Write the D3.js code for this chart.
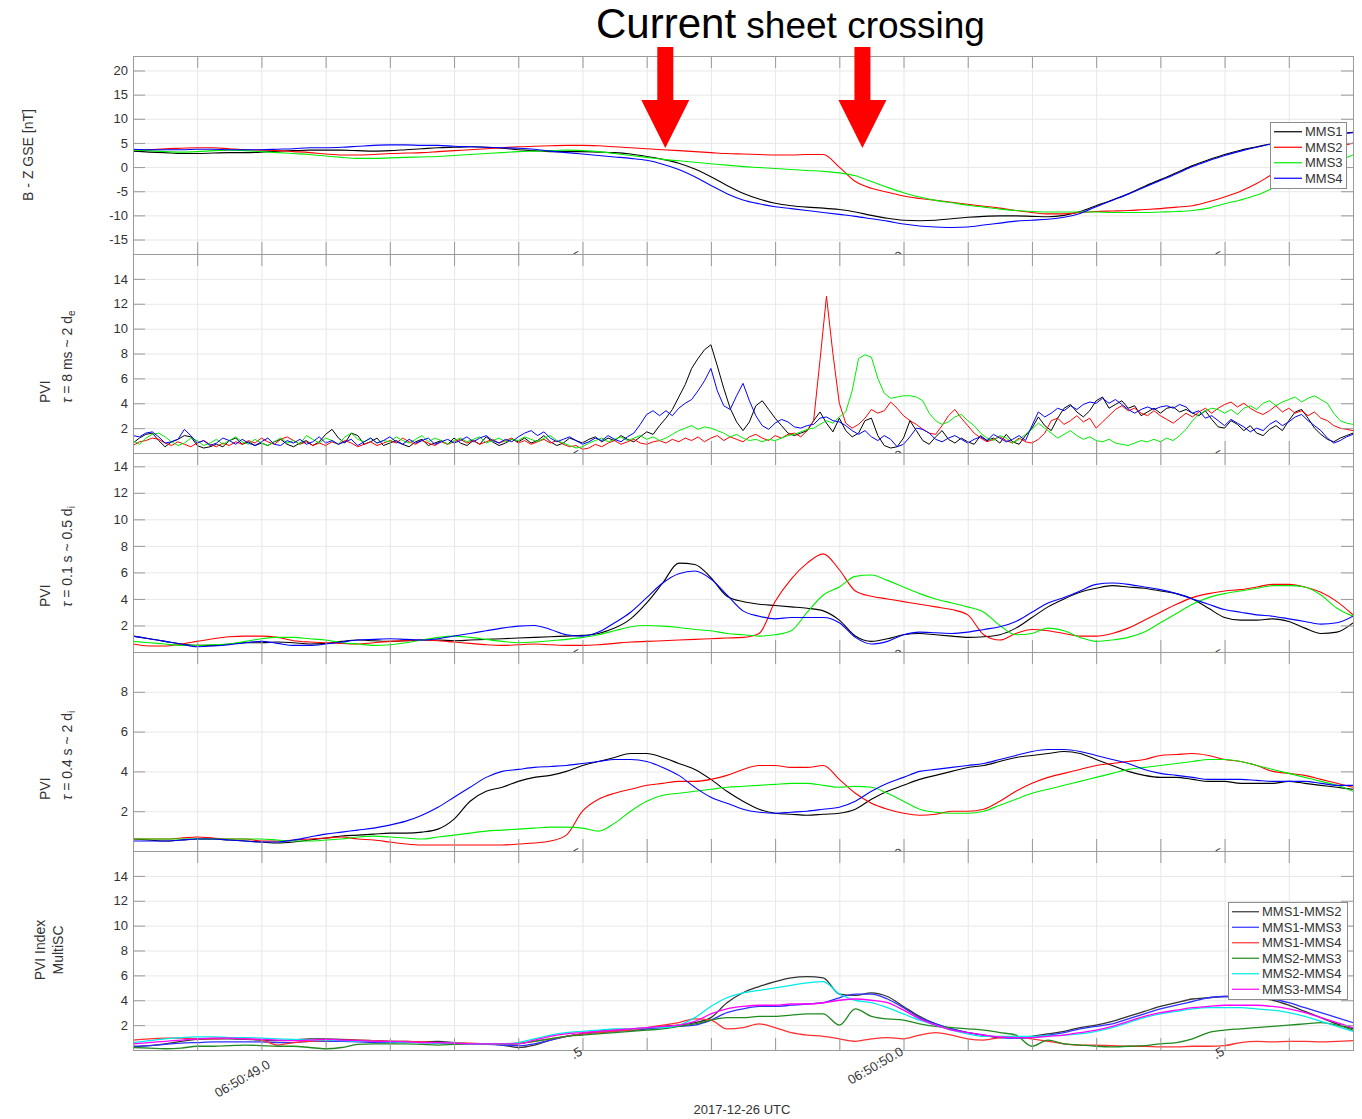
<!DOCTYPE html>
<html>
<head>
<meta charset="utf-8">
<script src="https://cdn.jsdelivr.net/npm/d3@7"></script>
<style>
  body { margin: 0; background: #fff; }
  svg { display: block; font-family: "Liberation Sans", Arial, Helvetica, sans-serif; }
</style>
</head>
<body>
<svg id="chart" width="1362" height="1119"></svg>
<script>
// Time is given in seconds after 06:50:00 UTC on 2017-12-26.
const tStart = 48.8, tEnd = 50.7;
const tSmooth = d3.range(77).map(i => 48.8 + i * 0.025);   // 25 ms samples
const tFine = d3.range(191).map(i => 48.8 + i * 0.01);     // 10 ms samples

const minorTicks = d3.range(1, 19).map(i => +(48.8 + i * 0.1).toFixed(1));
const majorTicks = [49.0, 49.5, 50.0, 50.5];
const majorLabels = ["06:50:49.0", ".5", "06:50:50.0", ".5"];

const bzTicks = [-15, -10, -5, 0, 5, 10, 15, 20];
const pviTicks = [2, 4, 6, 8, 10, 12, 14];
const pvi04Ticks = [2, 4, 6, 8];

const scNames = ["MMS1", "MMS2", "MMS3", "MMS4"];
const pairNames = ["MMS1-MMS2", "MMS1-MMS3", "MMS1-MMS4", "MMS2-MMS3", "MMS2-MMS4", "MMS3-MMS4"];

// --- B_z GSE [nT] ---
const bzMMS1 = [3.3,3.1,3.0,2.8,2.8,2.9,3.0,3.0, 3.1,3.3,3.4,3.5,3.5,3.5,3.4,3.3,
  3.4,3.6,3.8,4.0,4.1,4.2,4.1,3.9, 3.6,3.4,3.2,3.2,3.2,3.1,3.0,2.7,
  2.2,1.6,0.8,-0.4,-2.0,-3.8,-5.4,-6.6, -7.5,-8.0,-8.3,-8.5,-8.8,-9.3,-10.0,-10.6,
  -11.0,-11.1,-11.0,-10.7,-10.4,-10.2,-10.1,-10.1, -10.2,-10.3,-10.0,-9.2,-8.0,-6.8,-5.5,-4.0,
  -2.6,-1.2,0.3,1.5,2.6,3.5,4.2,4.9, 5.5,6.0,6.5,6.9,7.2];
const bzMMS2 = [3.5,3.6,3.8,3.9,4.0,4.0,3.8,3.6, 3.5,3.4,3.2,3.0,2.7,2.5,2.5,2.6,
  2.8,2.9,3.0,3.2,3.4,3.6,3.8,4.0, 4.2,4.3,4.4,4.5,4.5,4.4,4.2,4.0,
  3.8,3.6,3.4,3.2,3.0,2.8,2.7,2.6, 2.5,2.5,2.6,2.6,0.0,-3.0,-4.4,-5.2,
  -6.0,-6.5,-6.9,-7.3,-7.7,-8.1,-8.5,-9.0, -9.4,-9.7,-9.7,-9.4,-9.2,-9.1,-9.0,-8.8,
  -8.6,-8.3,-8.0,-7.2,-6.2,-5.0,-3.4,-1.5, 0.0,1.4,2.8,4.0,5.0];
const bzMMS3 = [3.5,3.4,3.2,3.1,3.2,3.4,3.5,3.4, 3.2,3.0,2.8,2.6,2.3,2.0,1.8,1.8,
  1.9,2.0,2.1,2.2,2.4,2.6,2.8,3.0, 3.2,3.3,3.4,3.5,3.4,3.2,2.8,2.4,
  2.0,1.6,1.3,1.0,0.7,0.4,0.1,-0.1, -0.3,-0.5,-0.7,-0.9,-1.2,-1.8,-3.0,-4.2,
  -5.3,-6.2,-6.9,-7.4,-7.9,-8.3,-8.7,-9.0, -9.2,-9.3,-9.3,-9.3,-9.3,-9.4,-9.4,-9.4,
  -9.3,-9.2,-9.0,-8.5,-7.6,-6.8,-5.8,-4.4, -3.0,-1.6,-0.3,1.2,2.5];
const bzMMS4 = [3.7,3.6,3.6,3.6,3.7,3.7,3.6,3.6, 3.6,3.7,3.8,4.0,4.0,4.1,4.3,4.5,
  4.6,4.6,4.5,4.5,4.3,4.2,4.1,4.0, 3.9,3.7,3.3,3.0,2.7,2.4,2.1,1.8,
  1.4,0.6,-0.5,-2.0,-3.8,-5.5,-6.8,-7.6, -8.2,-8.6,-9.0,-9.4,-9.8,-10.2,-10.7,-11.2,
  -11.8,-12.2,-12.4,-12.5,-12.4,-12.0,-11.6,-11.2, -11.0,-10.8,-10.4,-9.6,-8.2,-6.9,-5.6,-4.2,
  -2.8,-1.4,0.1,1.3,2.4,3.3,4.1,4.8, 5.4,5.9,6.4,6.8,7.1];

// --- PVI, tau = 8 ms ---
const pvi8MMS1 = [0.8,1.2,1.5,1.6,1.0,0.5,0.9,1.1,1.4,1.3, 0.6,0.4,0.5,0.7,0.5,1.0,1.2,0.7,0.9,0.6,
  0.8,0.6,0.9,1.1,0.7,0.5,0.8,1.0,0.6,0.9, 1.5,1.9,1.2,0.8,1.6,1.4,0.7,0.9,1.2,0.6,
  0.8,1.0,0.7,0.5,0.9,1.1,0.6,0.8,1.0,0.7, 1.2,0.8,0.6,1.0,0.7,1.3,0.9,0.6,0.8,1.1,
  0.9,1.2,0.8,1.0,1.4,0.9,0.6,0.8,1.2,1.0, 0.8,1.1,1.3,0.9,1.2,1.0,1.4,1.1,0.9,1.3,
  1.7,1.5,2.2,2.8,3.5,4.5,5.5,6.8,7.6,8.3, 8.7,7.0,5.2,3.6,2.5,1.8,2.5,3.8,4.2,3.5,
  2.8,2.2,1.6,1.4,1.6,1.8,2.6,3.3,2.4,1.7, 2.8,1.8,1.3,1.6,2.6,2.8,1.4,0.6,0.4,0.5,
  1.2,2.6,1.8,1.0,0.7,1.3,1.8,1.1,0.8,1.2, 0.9,0.7,1.4,1.0,1.2,0.8,1.5,0.9,0.7,1.4,
  2.0,2.9,2.2,1.8,2.8,3.6,3.9,3.3,2.9,3.4, 4.2,4.5,3.6,3.9,4.2,3.6,3.8,3.0,3.3,3.6,
  3.2,3.6,3.7,3.3,3.5,3.2,3.0,3.4,2.7,2.1, 2.0,2.6,2.3,1.8,2.2,1.6,1.4,1.9,2.2,1.8,
  2.6,3.3,3.5,2.8,2.0,1.5,1.1,0.9,1.2,1.4, 1.6];
const pvi8MMS2 = [0.6,0.9,1.0,1.2,1.1,0.8,0.6,0.9,0.7,0.5, 0.8,1.0,0.7,0.5,0.8,0.6,0.9,0.7,1.0,0.8,
  1.2,0.9,0.7,1.1,1.3,1.0,0.7,0.9,0.6,0.8, 0.6,0.9,0.7,1.0,0.8,0.5,0.7,0.9,0.6,0.8,
  1.0,0.8,1.2,0.9,0.7,1.0,0.8,0.6,0.9,0.7, 0.9,1.1,0.8,1.0,0.7,0.9,1.1,0.8,1.0,1.2,
  0.8,1.0,0.7,0.9,1.1,0.8,1.0,0.7,0.5,0.6, 0.3,0.4,0.7,0.5,0.8,1.0,0.7,0.9,1.1,0.8,
  0.7,0.9,1.0,0.8,1.1,0.9,1.2,1.0,1.3,0.9, 1.2,1.4,1.0,1.3,1.1,0.9,1.3,1.5,1.2,1.0,
  1.4,1.2,1.5,1.6,1.3,1.8,2.6,7.5,12.6,8.0, 4.0,2.4,2.0,2.3,2.8,3.5,3.2,3.4,4.1,3.6,
  3.0,2.6,2.3,1.9,1.6,1.5,2.2,3.0,3.5,2.8, 2.2,1.6,1.2,0.9,1.1,1.3,1.0,0.8,1.2,0.9,
  0.8,1.1,1.6,2.6,2.8,2.3,2.6,3.0,2.5,2.8, 2.0,2.5,3.0,3.5,3.8,3.4,3.6,3.2,3.0,3.4,
  3.0,2.7,2.4,2.8,3.2,2.9,3.3,3.6,3.2,3.6, 3.9,4.1,3.7,4.0,3.6,3.3,3.1,3.4,3.8,3.3,
  3.6,3.2,3.4,3.0,3.3,2.8,2.6,2.2,2.0,1.9, 1.8];
const pvi8MMS3 = [1.0,0.7,1.2,1.5,1.6,1.3,0.9,0.6,0.8,1.2, 1.0,0.6,0.8,1.1,0.7,1.0,1.3,0.9,0.7,1.1,
  0.8,0.6,0.9,1.2,0.8,1.0,0.7,1.4,1.1,0.8, 1.2,1.0,0.7,1.3,1.6,1.1,0.9,1.2,0.8,1.0,
  0.9,1.3,1.0,0.8,1.1,1.4,0.9,1.2,1.0,0.7, 1.0,1.2,0.9,1.1,1.3,0.8,1.0,1.2,0.9,1.1,
  1.0,1.3,1.1,0.9,1.2,1.4,1.0,0.8,0.6,0.4, 0.5,0.8,1.0,1.2,0.9,1.1,1.3,1.0,1.2,1.4,
  1.1,1.3,1.0,1.2,1.5,1.8,2.0,2.2,1.9,2.1, 2.0,1.8,1.6,1.3,1.5,1.2,1.0,1.1,0.9,1.1,
  1.0,1.2,1.4,1.5,1.7,1.9,2.0,2.3,2.6,2.4, 2.9,3.3,5.0,7.6,7.9,7.7,6.0,4.8,4.4,4.5,
  4.6,4.6,4.5,4.2,3.2,2.6,2.3,2.5,2.9,3.1, 2.6,2.2,1.6,1.2,1.0,1.4,1.2,0.8,1.1,1.5,
  1.9,2.4,2.0,1.6,1.2,1.5,1.8,1.4,1.1,1.3, 1.0,0.9,1.1,0.8,0.7,0.6,0.8,1.0,0.9,1.1,
  0.9,1.2,1.0,1.4,1.9,2.6,3.1,3.4,3.6,3.5, 3.2,3.5,3.1,3.6,3.8,3.5,4.0,4.2,3.8,4.1,
  4.3,4.5,4.1,4.4,4.6,4.3,4.0,3.2,2.6,2.4, 2.3];
const pvi8MMS4 = [1.4,1.3,1.6,1.7,1.3,0.8,0.9,1.1,1.9,1.4, 0.8,1.0,0.6,0.8,1.2,1.0,0.7,1.1,0.8,0.6,
  0.9,1.2,0.7,0.6,1.0,0.8,1.1,0.7,0.9,1.3, 0.8,1.0,0.7,0.9,1.1,0.6,0.9,1.2,0.8,1.0,
  1.3,0.9,0.7,1.1,0.8,1.0,1.2,0.7,0.9,1.1, 0.8,1.0,1.3,0.9,1.2,1.4,1.0,0.8,1.1,0.9,
  1.3,1.6,1.8,1.4,1.7,1.2,0.9,1.1,1.3,1.0, 0.7,0.9,1.2,1.0,1.4,1.1,0.9,1.3,1.6,2.3,
  3.1,3.4,3.0,3.4,3.0,3.6,4.0,4.3,5.0,5.8, 6.8,5.0,3.8,3.5,4.6,5.6,4.2,3.0,2.2,1.9,
  2.4,2.7,2.5,2.1,2.0,2.2,2.3,2.8,2.9,2.6, 2.5,2.2,1.8,1.5,1.8,1.3,1.0,1.4,1.1,0.5,
  0.7,1.3,2.0,1.9,1.6,1.1,0.9,1.2,1.4,1.1, 0.8,1.1,1.3,1.0,1.5,1.2,0.9,1.1,1.4,1.0,
  2.2,3.3,2.9,3.2,3.6,3.4,3.8,3.5,3.9,4.1, 4.0,4.4,4.0,4.3,3.9,3.5,3.2,3.5,3.7,3.5,
  3.7,3.8,3.6,3.9,3.7,3.2,3.4,2.8,3.0,2.6, 2.2,2.7,2.4,2.1,1.7,2.0,1.8,2.3,2.6,2.2,
  2.5,2.9,3.1,2.6,2.2,1.8,1.2,0.8,1.0,1.3, 1.5];

// --- PVI, tau = 0.1 s ---
const pvi01MMS1 = [1.2,1.0,0.8,0.6,0.5,0.5,0.6,0.7, 0.7,0.75,0.7,0.6,0.65,0.8,0.9,0.85,
  0.8,0.85,0.9,0.9,0.85,0.9,0.95,1.0, 1.05,1.1,1.15,1.2,1.25,1.4,1.8,2.5,
  3.7,5.2,6.7,6.6,5.6,4.2,3.8,3.6, 3.5,3.4,3.3,3.1,2.4,1.2,0.8,1.0,
  1.3,1.4,1.3,1.2,1.1,1.15,1.3,1.8, 2.6,3.4,4.0,4.5,4.8,5.0,4.9,4.8,
  4.6,4.4,4.0,3.3,2.6,2.4,2.4,2.5, 2.3,1.8,1.4,1.5,2.2];
const pvi01MMS2 = [0.6,0.45,0.45,0.6,0.8,1.0,1.15,1.2, 1.2,1.1,0.85,0.75,0.7,0.65,0.6,0.7,
  0.8,0.85,0.9,0.85,0.75,0.65,0.55,0.5, 0.55,0.6,0.55,0.5,0.5,0.55,0.65,0.75,
  0.8,0.85,0.9,0.95,1.0,1.05,1.1,1.4, 3.8,5.5,6.7,7.4,6.2,4.6,4.2,4.0,
  3.8,3.6,3.4,3.2,2.8,1.3,0.9,1.4, 1.7,1.6,1.4,1.2,1.2,1.4,1.8,2.4,
  3.0,3.6,4.1,4.4,4.6,4.7,4.9,5.1, 5.1,4.9,4.5,3.8,2.8];
const pvi01MMS3 = [0.8,0.7,0.6,0.5,0.5,0.55,0.6,0.8, 1.0,1.1,1.1,1.0,0.9,0.7,0.6,0.5,
  0.55,0.7,0.9,1.1,1.2,1.1,0.95,0.8, 0.7,0.75,0.85,0.95,1.1,1.3,1.6,1.9,
  2.0,1.95,1.85,1.7,1.6,1.4,1.3,1.2, 1.3,1.6,3.0,4.3,4.9,5.7,5.8,5.4,
  4.9,4.4,4.0,3.7,3.4,3.0,2.0,1.3, 1.4,1.8,1.6,1.1,0.8,0.9,1.1,1.5,
  2.2,2.9,3.6,4.1,4.4,4.6,4.8,5.0, 5.0,4.9,4.3,3.3,2.7];
const pvi01MMS4 = [1.2,1.0,0.8,0.6,0.4,0.45,0.55,0.7, 0.8,0.65,0.5,0.5,0.6,0.75,0.9,0.95,
  1.0,0.95,0.9,1.0,1.2,1.4,1.6,1.8, 1.95,2.0,1.7,1.3,1.2,1.5,2.2,3.0,
  4.1,5.2,5.9,6.1,5.5,4.3,3.1,2.7, 2.5,2.6,2.6,2.6,2.2,1.1,0.6,0.8,
  1.3,1.5,1.45,1.4,1.5,1.7,1.9,2.3, 3.0,3.7,4.1,4.6,5.1,5.2,5.1,4.9,
  4.7,4.4,4.0,3.6,3.2,3.0,2.8,2.7, 2.5,2.3,2.1,2.2,2.7];

// --- PVI, tau = 0.4 s ---
const pvi04MMS1 = [0.6,0.55,0.5,0.55,0.6,0.6,0.55,0.5, 0.45,0.4,0.45,0.55,0.65,0.75,0.8,0.85,
  0.9,0.9,0.95,1.1,1.6,2.5,3.0,3.2, 3.5,3.7,3.8,4.0,4.3,4.5,4.7,4.9,
  4.9,4.7,4.4,4.1,3.6,3.0,2.5,2.1, 1.9,1.85,1.8,1.85,1.9,2.1,2.6,3.0,
  3.3,3.6,3.8,4.0,4.2,4.3,4.5,4.7, 4.8,4.9,5.0,4.9,4.6,4.3,4.0,3.8,
  3.7,3.7,3.6,3.5,3.5,3.4,3.4,3.4, 3.5,3.4,3.3,3.2,3.1];
const pvi04MMS2 = [0.6,0.6,0.6,0.65,0.7,0.65,0.6,0.6, 0.5,0.5,0.55,0.6,0.65,0.7,0.6,0.55,
  0.45,0.35,0.3,0.3,0.3,0.3,0.3,0.3, 0.35,0.4,0.5,0.8,2.0,2.6,2.9,3.1,
  3.3,3.4,3.5,3.5,3.6,3.8,4.1,4.3, 4.3,4.2,4.2,4.3,3.6,2.9,2.4,2.1,
  1.9,1.8,1.85,2.0,2.0,2.1,2.5,3.0, 3.4,3.7,3.9,4.1,4.3,4.4,4.5,4.6,
  4.8,4.85,4.9,4.8,4.6,4.5,4.3,4.0, 3.9,3.8,3.6,3.4,3.2];
const pvi04MMS3 = [0.6,0.6,0.6,0.6,0.6,0.6,0.6,0.6, 0.6,0.55,0.5,0.5,0.55,0.6,0.7,0.75,
  0.7,0.65,0.6,0.7,0.8,0.9,1.0,1.05, 1.1,1.15,1.2,1.2,1.15,1.0,1.4,2.0,
  2.5,2.8,2.9,3.0,3.1,3.2,3.25,3.3, 3.35,3.4,3.4,3.3,3.2,3.25,3.2,2.9,
  2.5,2.1,1.95,1.9,1.9,2.0,2.3,2.6, 2.9,3.1,3.3,3.5,3.7,3.9,4.1,4.2,
  4.3,4.4,4.5,4.6,4.6,4.5,4.3,4.1, 3.9,3.7,3.5,3.3,3.0];
const pvi04MMS4 = [0.5,0.5,0.5,0.55,0.6,0.6,0.55,0.5, 0.45,0.45,0.55,0.7,0.85,0.95,1.05,1.15,
  1.3,1.5,1.8,2.2,2.7,3.2,3.7,4.0, 4.1,4.2,4.25,4.3,4.4,4.5,4.6,4.6,
  4.5,4.2,3.8,3.2,2.7,2.4,2.1,1.95, 1.9,1.95,2.0,2.1,2.2,2.5,3.0,3.4,
  3.7,4.0,4.1,4.2,4.3,4.4,4.6,4.8, 5.0,5.1,5.1,5.0,4.8,4.6,4.4,4.1,
  3.9,3.8,3.7,3.6,3.6,3.6,3.55,3.5, 3.5,3.5,3.4,3.3,3.3];

// --- Multi-spacecraft PVI index ---
const mpvi12 = [0.25,0.35,0.5,0.7,0.85,0.9,0.9,0.85, 0.8,0.75,0.8,0.9,0.9,0.85,0.8,0.75,
  0.7,0.7,0.65,0.7,0.6,0.5,0.5,0.4, 0.2,0.4,0.8,1.1,1.3,1.5,1.6,1.6,
  1.7,1.9,2.0,2.2,2.6,3.8,4.6,5.1, 5.5,5.8,5.9,5.8,4.5,4.4,4.6,4.3,
  3.5,2.7,2.1,1.7,1.4,1.2,1.0,1.0, 1.1,1.3,1.5,1.8,2.0,2.3,2.7,3.1,
  3.5,3.8,4.1,4.2,4.3,4.3,4.2,4.0, 3.6,3.1,2.6,2.1,1.7];
const mpvi13 = [0.3,0.35,0.45,0.55,0.6,0.65,0.65,0.65, 0.65,0.6,0.6,0.7,0.7,0.7,0.65,0.6,
  0.6,0.65,0.6,0.55,0.5,0.5,0.45,0.4, 0.35,0.5,0.8,1.1,1.3,1.4,1.5,1.6,
  1.7,1.8,1.9,2.0,2.4,3.0,3.3,3.5, 3.5,3.6,3.7,3.8,4.2,4.5,4.5,4.1,
  3.4,2.6,2.1,1.7,1.4,1.2,1.0,0.95, 1.0,1.2,1.4,1.7,1.9,2.1,2.5,2.9,
  3.3,3.6,3.9,4.2,4.3,4.3,4.2,4.1, 3.8,3.4,3.0,2.6,2.2];
const mpvi14 = [0.8,0.9,0.95,0.95,0.9,0.9,0.95,0.9, 0.8,0.4,0.6,0.7,0.75,0.8,0.8,0.75,
  0.7,0.7,0.65,0.6,0.6,0.55,0.5,0.5, 0.55,0.7,0.9,1.1,1.3,1.4,1.5,1.6,
  1.8,2.0,2.2,2.5,2.4,1.7,1.8,2.1, 1.8,1.4,1.2,1.1,0.9,0.7,0.9,1.0,
  0.9,1.2,1.4,1.2,0.9,0.8,1.0,1.1, 0.9,0.7,0.5,0.4,0.4,0.35,0.3,0.3,
  0.25,0.25,0.3,0.3,0.35,0.6,0.7,0.65, 0.7,0.7,0.65,0.7,0.75];
const mpvi23 = [0.2,0.15,0.1,0.15,0.3,0.3,0.35,0.4, 0.35,0.3,0.3,0.2,0.1,0.2,0.45,0.5,
  0.5,0.5,0.45,0.4,0.45,0.5,0.5,0.45, 0.5,0.7,0.9,1.1,1.2,1.3,1.4,1.5,
  1.6,1.7,1.9,2.1,2.4,2.6,2.6,2.7, 2.7,2.8,2.9,2.9,2.0,3.3,2.7,2.5,
  2.4,2.1,1.9,1.8,1.7,1.6,1.4,1.2, 0.3,0.8,0.5,0.4,0.3,0.25,0.3,0.35,
  0.5,0.6,0.9,1.4,1.6,1.7,1.8,1.9, 2.0,2.1,2.2,2.0,1.6];
const mpvi24 = [0.6,0.75,0.9,1.0,1.05,1.05,1.0,1.0, 0.95,0.9,0.85,0.8,0.8,0.75,0.7,0.7,
  0.65,0.6,0.6,0.55,0.55,0.5,0.5,0.5, 0.6,0.9,1.2,1.4,1.5,1.6,1.7,1.7,
  1.8,1.8,2.0,2.6,3.5,4.2,4.6,4.8, 5.0,5.2,5.4,5.5,4.5,4.0,3.8,3.4,
  2.9,2.4,2.0,1.6,1.3,1.1,1.1,1.1, 1.1,1.15,1.2,1.3,1.5,1.8,2.2,2.6,
  2.9,3.1,3.3,3.4,3.4,3.4,3.3,3.2, 3.0,2.7,2.3,1.9,1.5];
const mpvi34 = [0.5,0.6,0.7,0.8,0.9,0.95,0.95,0.9, 0.85,0.8,0.75,0.8,0.85,0.8,0.75,0.7,
  0.7,0.65,0.6,0.6,0.55,0.5,0.5,0.5, 0.5,0.8,1.1,1.3,1.4,1.5,1.6,1.7,
  1.8,1.9,2.0,2.3,2.9,3.3,3.5,3.6, 3.6,3.7,3.7,3.8,4.0,4.1,4.0,3.8,
  3.2,2.5,2.0,1.6,1.4,1.2,1.05,1.0, 1.0,1.1,1.2,1.4,1.6,1.9,2.3,2.7,
  3.0,3.2,3.4,3.5,3.6,3.6,3.6,3.5, 3.3,3.0,2.6,2.2,1.8];

// ------------------------------------------------------------------
const svg = d3.select("#chart");
const left = 133, right = 1353;
const x = d3.scaleLinear().domain([tStart, tEnd]).range([left, right]);

const scColors = ["#000000", "#ff0000", "#00ee00", "#0000ff"];
const pairColors = ["#333333", "#3030ff", "#ff3030", "#1f8a1f", "#00eaea", "#ff00ff"];

const smooth = d3.curveMonotoneX;
const panels = [
  { top: 56, bottom: 254, yDomain: [-18, 23], yTicks: bzTicks, time: tSmooth, curve: smooth, width: 1.1,
    series: [bzMMS1, bzMMS2, bzMMS3, bzMMS4].map((v, i) => ({ values: v, color: scColors[i] })) },
  { top: 254, bottom: 453, yDomain: [0, 16], yTicks: pviTicks, time: tFine, curve: d3.curveLinear, width: 1.0,
    series: [pvi8MMS1, pvi8MMS2, pvi8MMS3, pvi8MMS4].map((v, i) => ({ values: v, color: scColors[i] })) },
  { top: 453, bottom: 652, yDomain: [0, 15], yTicks: pviTicks, time: tSmooth, curve: smooth, width: 1.1,
    series: [pvi01MMS1, pvi01MMS2, pvi01MMS3, pvi01MMS4].map((v, i) => ({ values: v, color: scColors[i] })) },
  { top: 652, bottom: 851, yDomain: [0, 10], yTicks: pvi04Ticks, time: tSmooth, curve: smooth, width: 1.1,
    series: [pvi04MMS1, pvi04MMS2, pvi04MMS3, pvi04MMS4].map((v, i) => ({ values: v, color: scColors[i] })) },
  { top: 851, bottom: 1050, yDomain: [0, 16], yTicks: pviTicks, time: tSmooth, curve: smooth, width: 1.3,
    series: [mpvi12, mpvi13, mpvi14, mpvi23, mpvi24, mpvi34].map((v, i) => ({ values: v, color: pairColors[i] })) }
];

const defs = svg.append("defs");
const axisColor = "#9a9a9a";
const textColor = "#333333";

function styleAxis(sel, color) {
  sel.select(".domain").remove();
  sel.selectAll(".tick line").attr("stroke", color);
  sel.attr("font-family", null).attr("font-size", 13);
  sel.selectAll(".tick text").attr("fill", textColor);
}

panels.forEach((p, k) => {
  const y = d3.scaleLinear().domain(p.yDomain).range([p.bottom, p.top]);
  const g = svg.append("g").attr("class", "panel");
  const h = p.bottom - p.top;

  g.append("rect").attr("x", left).attr("y", p.top).attr("width", right - left).attr("height", h).attr("fill", "#fff");

  // grid
  g.append("g").attr("transform", `translate(${left},0)`)
    .call(d3.axisLeft(y).tickValues(p.yTicks).tickSize(-(right - left)).tickFormat(""))
    .call(s => styleAxis(s, "#e8e8e8"));
  g.append("g").attr("transform", `translate(0,${p.bottom})`)
    .call(d3.axisBottom(x).tickValues(minorTicks).tickSize(-h).tickFormat(""))
    .call(s => styleAxis(s, "#e8e8e8"));

  // data lines
  const clipId = "plot-clip-" + k;
  defs.append("clipPath").attr("id", clipId)
    .append("rect").attr("x", left).attr("y", p.top).attr("width", right - left).attr("height", h);
  const lines = g.append("g").attr("clip-path", `url(#${clipId})`);
  p.series.forEach(s => {
    const line = d3.line().x((d, i) => x(p.time[i])).y(d => y(d)).curve(p.curve);
    lines.append("path").attr("d", line(s.values)).attr("fill", "none")
      .attr("stroke", s.color).attr("stroke-width", p.width).attr("stroke-linejoin", "round");
  });

  // inward ticks on all four sides
  g.append("g").attr("transform", `translate(${left},0)`)
    .call(d3.axisLeft(y).tickValues(p.yTicks).tickSize(-12).tickSizeOuter(0).tickPadding(5)
      .tickFormat(d => String(d)))
    .call(s => styleAxis(s, axisColor));
  g.append("g").attr("transform", `translate(${right},0)`)
    .call(d3.axisRight(y).tickValues(p.yTicks).tickSize(-12).tickSizeOuter(0).tickFormat(""))
    .call(s => styleAxis(s, axisColor));
  g.append("g").attr("transform", `translate(0,${p.top})`)
    .call(d3.axisTop(x).tickValues(minorTicks).tickSize(-12).tickSizeOuter(0).tickFormat(""))
    .call(s => styleAxis(s, axisColor));
  g.append("g").attr("transform", `translate(0,${p.bottom})`)
    .call(d3.axisBottom(x).tickValues(minorTicks).tickSize(-12).tickSizeOuter(0).tickFormat(""))
    .call(s => styleAxis(s, axisColor));

  g.append("rect").attr("x", left + 0.5).attr("y", p.top + 0.5)
    .attr("width", right - left).attr("height", h)
    .attr("fill", "none").attr("stroke", axisColor).attr("stroke-width", 1);

  // rotated time labels (the next panel's background hides most of them)
  majorTicks.forEach((t, i) => {
    const first = i === 0;
    const ax = x(t) + (first ? 5 : -4);
    const ay = p.bottom + (first ? 9 : -4);
    g.append("text")
      .attr("transform", `translate(${ax},${ay}) rotate(-30)`)
      .attr("text-anchor", "end").attr("dy", "0.72em")
      .attr("font-size", 13).attr("fill", textColor)
      .text(majorLabels[i]);
  });
});

// y-axis titles
function vText(xPos, yPos, anchor) {
  return svg.append("text")
    .attr("transform", `translate(${xPos},${yPos}) rotate(-90)`)
    .attr("text-anchor", anchor).attr("font-size", 14).attr("fill", textColor);
}
vText(33, 155, "middle").text("B - Z GSE [nT]");

const pviLabels = [
  { base: 403, scale: "8 ms ~ 2 d", sub: "e" },
  { base: 607, scale: "0.1 s ~ 0.5 d", sub: "i" },
  { base: 800, scale: "0.4 s ~ 2 d", sub: "i" }
];
pviLabels.forEach(l => {
  vText(50, l.base, "start").text("PVI");
  const t = vText(72, l.base, "start");
  t.append("tspan").attr("font-style", "italic").text("τ");
  t.append("tspan").text(" = " + l.scale);
  t.append("tspan").attr("font-size", 10).attr("dy", 3).text(l.sub);
});
vText(45, 950, "middle").text("PVI Index");
vText(63, 950, "middle").text("MultiSC");

// x-axis title
svg.append("text").attr("x", 742).attr("y", 1114).attr("text-anchor", "middle")
  .attr("font-size", 13).attr("fill", textColor).text("2017-12-26 UTC");

// legends
function legend(x0, y0, w, hgt, names, colors, lineLen) {
  const lg = svg.append("g");
  lg.append("rect").attr("x", x0 + 0.5).attr("y", y0 + 0.5).attr("width", w).attr("height", hgt)
    .attr("fill", "#fff").attr("stroke", "#8c8c8c");
  const rowH = (hgt - 4) / names.length;
  names.forEach((n, i) => {
    const cy = y0 + 2 + rowH * (i + 0.5);
    lg.append("line").attr("x1", x0 + 4).attr("x2", x0 + 4 + lineLen)
      .attr("y1", cy).attr("y2", cy).attr("stroke", colors[i]).attr("stroke-width", 1.2);
    lg.append("text").attr("x", x0 + 7 + lineLen).attr("y", cy).attr("dy", "0.35em")
      .attr("font-size", 13).attr("fill", textColor).text(n);
  });
}
legend(1270, 122, 76, 66, scNames, scColors, 28);
legend(1228, 902, 119, 97, pairNames, pairColors, 27);

// title
const title = svg.append("text").attr("x", 596).attr("y", 38).attr("fill", "#000");
title.append("tspan").attr("font-size", 42).text("Current");
title.append("tspan").attr("font-size", 37).text(" sheet crossing");

// arrows marking the two crossings
const crossingTimes = [49.629, 49.936];
crossingTimes.forEach(t => {
  const cx = x(t);
  const pts = [[cx - 8, 47], [cx + 8, 47], [cx + 8, 100], [cx + 24, 100], [cx, 148], [cx - 24, 100], [cx - 8, 100]];
  svg.append("path").attr("d", d3.line()(pts) + "Z").attr("fill", "#ff0000");
});
</script>
</body>
</html>
